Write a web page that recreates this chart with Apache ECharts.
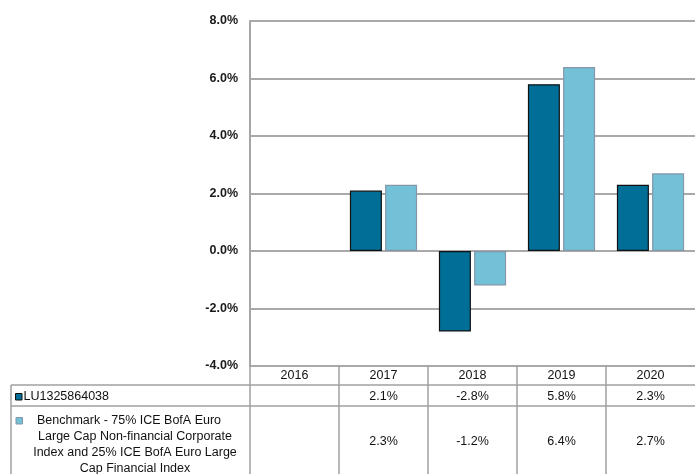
<!DOCTYPE html>
<html>
<head>
<meta charset="utf-8">
<script src="https://cdn.jsdelivr.net/npm/echarts@6/dist/echarts.min.js"></script>
<style>
html,body{margin:0;padding:0;background:#fff;}
#chart{width:695px;height:474px;}
</style>
</head>
<body>
<div id="chart"></div>
<script>
var categories = ['2016', '2017', '2018', '2019', '2020'];
var fundName = 'LU1325864038';
var fundValues = [null, 2.1, -2.8, 5.8, 2.3];
var benchLines = ['Benchmark - 75% ICE BofA Euro', 'Large Cap Non-financial Corporate', 'Index and 25% ICE BofA Euro Large', 'Cap Financial Index'];
var benchValues = [null, 2.3, -1.2, 6.4, 2.7];
var yTicks = [-4, -2, 0, 2, 4, 6, 8];

var DARK = '#006f98';
var LIGHT = '#73c1d6';
var FONT = 'Liberation Sans, Arial, sans-serif';

var chart = echarts.init(document.getElementById('chart'), null, {renderer: 'canvas'});

chart.setOption({
  animation: false,
  backgroundColor: '#ffffff',
  grid: {left: 250, top: 21, width: 450, height: 345, containLabel: false},
  xAxis: {
    type: 'category',
    data: categories,
    axisLine: {show: false},
    axisTick: {show: false},
    axisLabel: {show: false},
    splitLine: {show: false}
  },
  yAxis: {
    type: 'value',
    min: yTicks[0],
    max: yTicks[yTicks.length - 1],
    interval: 2,
    axisLine: {show: true, lineStyle: {color: '#a6a6a6', width: 2}},
    axisTick: {show: false},
    axisLabel: {
      formatter: function (v) { return v.toFixed(1) + '%'; },
      fontFamily: FONT, fontWeight: 'bold', fontSize: 12.5, color: '#1a1a1a', margin: 12,
      padding: [2, 0, 0, 0]
    },
    splitLine: {show: true, lineStyle: {color: '#8c8c8c', width: 1.5}}
  },
  series: [
    {
      name: fundName, type: 'bar', data: fundValues,
      barWidth: 32, barGap: '10%',
      itemStyle: {color: DARK, borderColor: '#111111', borderWidth: 1.2}
    },
    {
      name: 'Benchmark', type: 'bar', data: benchValues,
      barWidth: 32,
      itemStyle: {color: LIGHT, borderColor: '#8496a8', borderWidth: 1.2}
    }
  ]
});

function fmt(v) { return v == null ? '' : v.toFixed(1) + '%'; }

var els = [];
var c0 = chart.convertToPixel({xAxisIndex: 0}, 0);
var c1 = chart.convertToPixel({xAxisIndex: 0}, 1);
var half = (c1 - c0) / 2;
var yBottom = chart.convertToPixel({yAxisIndex: 0}, yTicks[0]);
var rowTop1 = yBottom + 19, rowTop2 = yBottom + 40, tableBottom = 480;
var lineColor = '#a0a0a0';

function hline(x1, x2, y) {
  els.push({type: 'line', shape: {x1: x1, y1: y, x2: x2, y2: y}, style: {stroke: lineColor, lineWidth: 1.5}, z: 10});
}
function vline(x, y1, y2) {
  els.push({type: 'line', shape: {x1: x, y1: y1, x2: x, y2: y2}, style: {stroke: lineColor, lineWidth: 1.5}, z: 10});
}
function txt(x, y, s, align) {
  els.push({type: 'text', x: x, y: y, style: {text: s, fill: '#111', font: '12.5px ' + FONT, align: align || 'center', verticalAlign: 'middle'}, z: 11});
}

for (var i = 0; i < categories.length; i++) {
  var cx = chart.convertToPixel({xAxisIndex: 0}, i);
  vline(cx - half, yBottom, tableBottom);
  txt(cx, (yBottom + rowTop1) / 2 + 0.5, categories[i]);
  txt(cx, (rowTop1 + rowTop2) / 2 + 1, fmt(fundValues[i]));
  txt(cx, 442, fmt(benchValues[i]));
}
vline(11, rowTop1, tableBottom);
hline(11, 700, rowTop1);
hline(11, 700, rowTop2);

// legend cells
els.push({type: 'rect', shape: {x: 15.5, y: 393.5, width: 6.5, height: 6.5}, style: {fill: DARK, stroke: '#111', lineWidth: 1}, z: 11});
txt(23.5, 397, fundName, 'left');
els.push({type: 'rect', shape: {x: 16, y: 417.5, width: 6.5, height: 6.5}, style: {fill: LIGHT, stroke: '#8496a8', lineWidth: 1}, z: 11});
var lineCenters = [129, 135, 135, 135];
for (var k = 0; k < benchLines.length; k++) {
  txt(lineCenters[k], 421 + 16 * k, benchLines[k]);
}

chart.setOption({graphic: {elements: els}});
</script>
</body>
</html>
